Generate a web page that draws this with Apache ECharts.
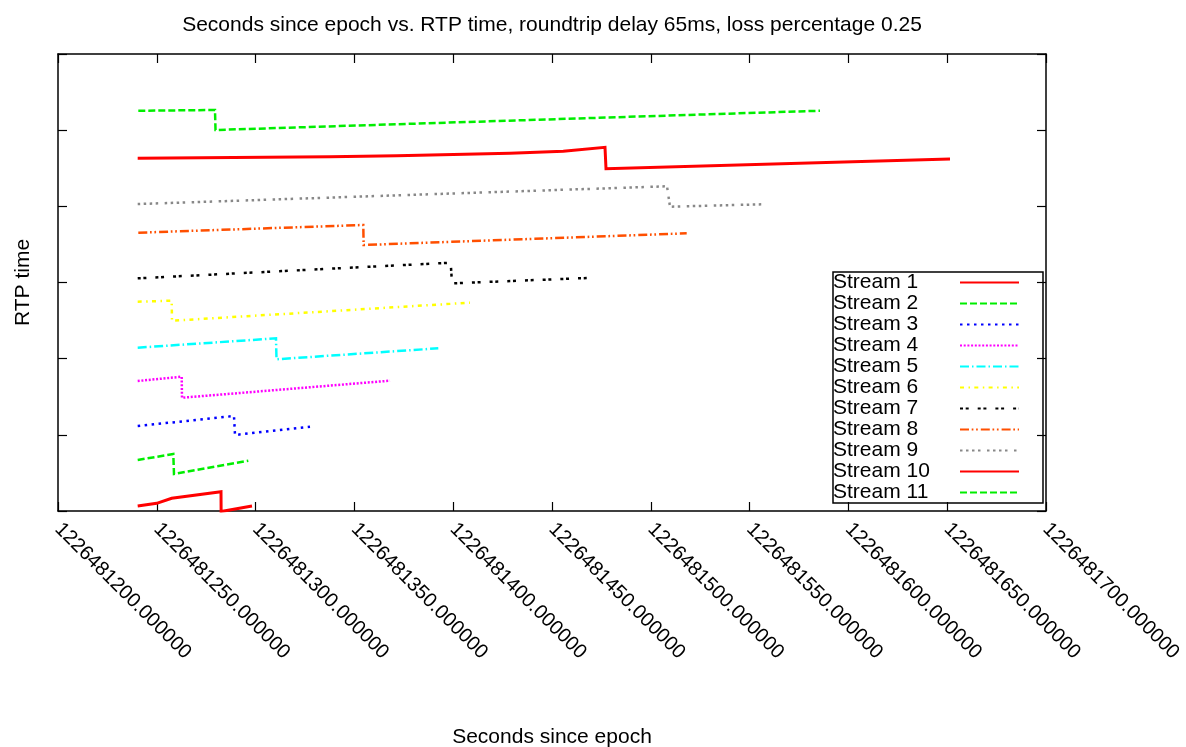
<!DOCTYPE html>
<html>
<head>
<meta charset="utf-8">
<script src="https://cdn.jsdelivr.net/npm/echarts@6/dist/echarts.min.js"></script>
<style>
html,body{margin:0;padding:0;background:#fff;overflow:hidden;}
#chart{width:1186px;height:747px;}
</style>
</head>
<body>
<div id="chart"></div>
<script>
// ---- data ----
const titleText = 'Seconds since epoch vs. RTP time, roundtrip delay 65ms, loss percentage 0.25';
const xAxisName = 'Seconds since epoch';
const yAxisName = 'RTP time';
const xMin = 1226481200, xMax = 1226481700, xStep = 50;
const yMin = 0, yMax = 6, yStep = 1;

const streamNames = ['Stream 1','Stream 2','Stream 3','Stream 4','Stream 5','Stream 6','Stream 7','Stream 8','Stream 9','Stream 10','Stream 11'];

const s1x = [1226481240.33, 1226481249.95, 1226481257.54, 1226481282.49, 1226481282.55, 1226481298.18];
const s1y = [0.066, 0.101, 0.167, 0.253, -0.007, 0.066];
const s2x = [1226481240.33, 1226481258.35, 1226481258.70, 1226481296.31];
const s2y = [0.670, 0.748, 0.486, 0.660];
const s3x = [1226481240.33, 1226481289.07, 1226481289.57, 1226481327.53];
const s3y = [1.116, 1.247, 0.998, 1.107];
const s4x = [1226481240.33, 1226481262.60, 1226481262.75, 1226481368.02];
const s4y = [1.707, 1.763, 1.487, 1.711];
const s5x = [1226481240.33, 1226481310.32, 1226481310.58, 1226481392.46];
const s5y = [2.144, 2.267, 1.992, 2.136];
const s6x = [1226481240.33, 1226481257.54, 1226481257.69, 1226481408.50];
const s6y = [2.748, 2.761, 2.498, 2.735];
const s7x = [1226481240.33, 1226481398.73, 1226481399.39, 1226481471.76];
const s7y = [3.055, 3.260, 2.989, 3.063];
const s8x = [1226481240.64, 1226481354.50, 1226481354.66, 1226481518.17];
const s8y = [3.654, 3.755, 3.492, 3.646];
const s9x = [1226481240.33, 1226481508.20, 1226481509.72, 1226481556.93];
const s9y = [4.030, 4.263, 3.995, 4.027];
const s10x = [1226481240.33, 1226481337.65, 1226481371.40, 1226481428.74, 1226481455.70, 1226481476.82, 1226481477.33, 1226481651.42];
const s10y = [4.631, 4.652, 4.665, 4.696, 4.722, 4.775, 4.494, 4.621];
const s11x = [1226481240.64, 1226481279.45, 1226481279.71, 1226481585.63];
const s11y = [5.255, 5.265, 5.002, 5.255];

const streamX = [s1x, s2x, s3x, s4x, s5x, s6x, s7x, s8x, s9x, s10x, s11x];
const streamY = [s1y, s2y, s3y, s4y, s5y, s6y, s7y, s8y, s9y, s10y, s11y];

// ---- styles ----
const colors = ['#ff0000','#00ee00','#0000ff','#ff00ff','#00ffff','#ffff00','#000000','#ff4f00','#888888','#ff0000','#00ee00'];
const dashes = [
  'solid',
  [7, 3],
  [2.5, 4.5],
  [2, 1.7],
  [9, 3, 1.5, 3],
  [4, 4.5, 1.5, 4.3],
  [3, 2.7, 3, 9],
  [9, 2.7, 1.7, 2.7, 1.7, 3],
  [2.5, 3.5, 2.5, 3.5, 2.5, 3.5, 2.5, 6.5],
  'solid',
  [7, 3]
];
const widths = [3, 2.5, 2.5, 2.5, 2.5, 2.5, 2.5, 2.5, 2.5, 3, 2.5];

const FONT = '"Liberation Sans", Arial, Helvetica, sans-serif';

const series = streamNames.map((name, i) => ({
  name: name,
  type: 'line',
  data: streamX[i].map((x, j) => [x, streamY[i][j]]),
  showSymbol: false,
  symbol: 'none',
  clip: true,
  lineStyle: { color: colors[i], width: widths[i], type: dashes[i], cap: 'butt', join: 'miter' },
  itemStyle: { color: colors[i] },
  emphasis: { disabled: true },
  animation: false
}));

const tickCommon = { show: true, inside: true, length: 9, lineStyle: { color: '#000', width: 1.2 } };
const lineCommon = { show: true, onZero: false, lineStyle: { color: '#000', width: 1.5 } };

const chart = echarts.init(document.getElementById('chart'), null, { renderer: 'canvas' });
chart.setOption({
  backgroundColor: '#ffffff',
  animation: false,
  title: {
    text: titleText,
    left: 552,
    textAlign: 'center',
    top: 15,
    padding: 0,
    textStyle: { fontFamily: FONT, fontSize: 21, fontWeight: 'normal', color: '#000' }
  },
  grid: { left: 58, right: 140, top: 54, bottom: 236, containLabel: false, outerBoundsMode: 'none' },
  legend: {
    orient: 'vertical',
    left: 833,
    top: 272,
    align: 'right',
    itemWidth: 59,
    itemHeight: 12,
    itemGap: 0,
    padding: [0, 23, 0, 0],
    borderColor: '#000',
    borderWidth: 1.5,
    selectedMode: false,
    itemStyle: { opacity: 0 },
    formatter: '{n|{name}}',
    textStyle: {
      fontFamily: FONT, fontSize: 21, color: '#000',
      rich: { n: { width: 122, align: 'left', fontFamily: FONT, fontSize: 21, lineHeight: 21, color: '#000' } }
    },
    data: streamNames
  },
  xAxis: [
    {
      type: 'value', position: 'bottom', min: xMin, max: xMax, interval: xStep,
      name: xAxisName, nameLocation: 'middle', nameGap: 216,
      nameTextStyle: { fontFamily: FONT, fontSize: 21, color: '#000' },
      axisLine: lineCommon, axisTick: tickCommon, splitLine: { show: false },
      axisLabel: {
        rotate: -45, margin: 15, fontFamily: FONT, fontSize: 20, color: '#000',
        padding: [9, 0, 0, 0],
        showMinLabel: true, showMaxLabel: true,
        formatter: v => v.toFixed(6)
      }
    },
    {
      type: 'value', position: 'top', min: xMin, max: xMax, interval: xStep,
      axisLine: lineCommon, axisTick: tickCommon, splitLine: { show: false },
      axisLabel: { show: false }
    }
  ],
  yAxis: [
    {
      type: 'value', position: 'left', min: yMin, max: yMax, interval: yStep,
      name: yAxisName, nameLocation: 'middle', nameGap: 24, nameRotate: 90,
      nameTextStyle: { fontFamily: FONT, fontSize: 21, color: '#000' },
      axisLine: lineCommon, axisTick: tickCommon, splitLine: { show: false },
      axisLabel: { show: false }
    },
    {
      type: 'value', position: 'right', min: yMin, max: yMax, interval: yStep,
      axisLine: lineCommon, axisTick: tickCommon, splitLine: { show: false },
      axisLabel: { show: false }
    }
  ],
  series: series
});
</script>
</body>
</html>
